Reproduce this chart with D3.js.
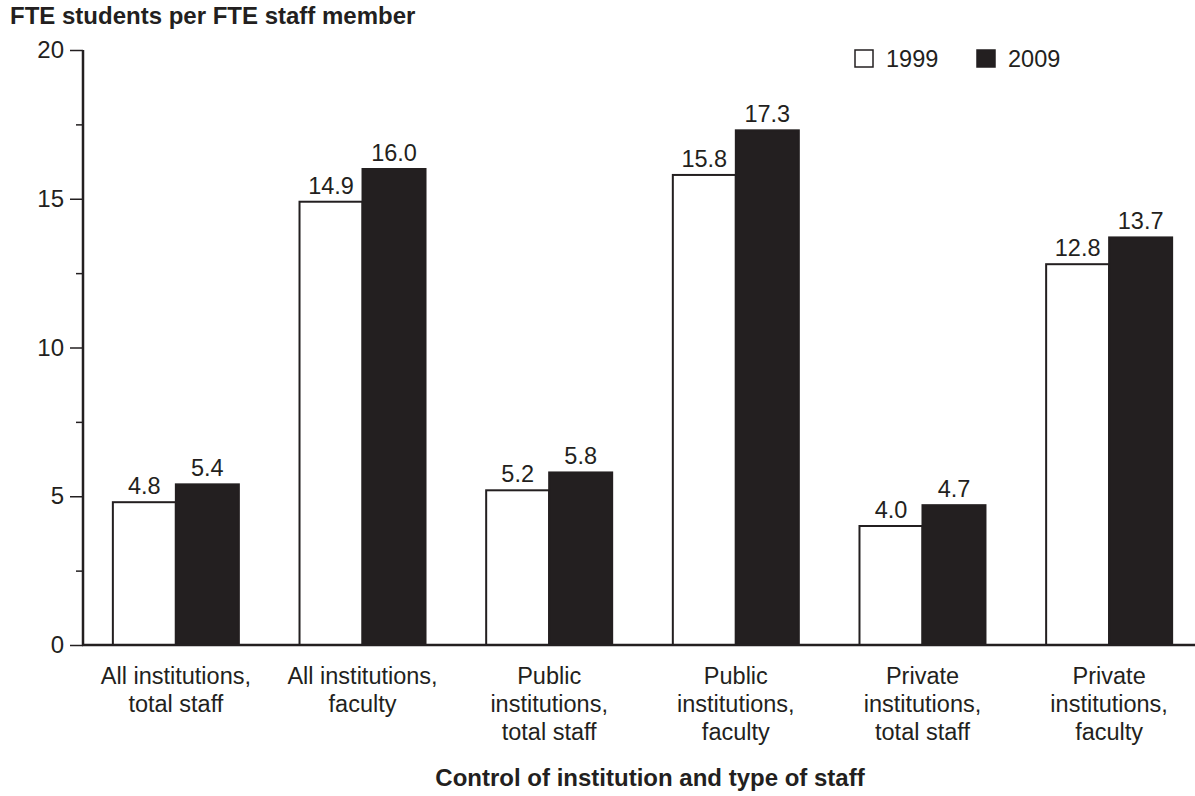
<!DOCTYPE html>
<html>
<head>
<meta charset="utf-8">
<script src="https://cdn.jsdelivr.net/npm/d3@7"></script>
<style>
  body { margin: 0; background: #fff; }
  svg text { font-family: "Liberation Sans", Arial, Helvetica, sans-serif; fill: #231f20; }
</style>
</head>
<body>
<div id="chart"></div>
<script>
// data
var categories = [
    ["All institutions,", "total staff"],
    ["All institutions,", "faculty"],
    ["Public", "institutions,", "total staff"],
    ["Public", "institutions,", "faculty"],
    ["Private", "institutions,", "total staff"],
    ["Private", "institutions,", "faculty"]
];
var years = ["1999", "2009"];
var values1999 = [4.8, 14.9, 5.2, 15.8, 4.0, 12.8];
var values2009 = [5.4, 16.0, 5.8, 17.3, 4.7, 13.7];
var majorTicks = [0, 5, 10, 15, 20];
var minorTicks = [2.5, 7.5, 12.5, 17.5];

var ink = "#231f20";
var width = 1195, height = 796;

var svg = d3.select("#chart").append("svg")
    .attr("width", width)
    .attr("height", height);

var keys = categories.map(function(d, i) { return "c" + i; });

var x0 = d3.scaleBand()
    .domain(keys)
    .range([83, 1202])
    .paddingInner(0.325)
    .paddingOuter(0.16);

var x1 = d3.scaleBand()
    .domain(years)
    .range([0, x0.bandwidth()]);

var y = d3.scaleLinear()
    .domain([0, 20])
    .range([645, 50]);

var series = [values1999, values2009];
var fills = ["#ffffff", ink];

// bars
var groups = svg.selectAll("g.group")
    .data(keys)
    .enter().append("g")
    .attr("class", "group")
    .attr("transform", function(d) { return "translate(" + x0(d) + ",0)"; });

groups.selectAll("rect")
    .data(function(d, i) { return years.map(function(yr, j) { return {year: yr, value: series[j][i], j: j}; }); })
    .enter().append("rect")
    .attr("x", function(d) { return x1(d.year); })
    .attr("y", function(d) { return y(d.value); })
    .attr("width", x1.bandwidth())
    .attr("height", function(d) { return y(0) - y(d.value); })
    .attr("fill", function(d) { return fills[d.j]; })
    .attr("stroke", ink)
    .attr("stroke-width", 2);

// value labels
groups.selectAll("text.val")
    .data(function(d, i) { return years.map(function(yr, j) { return {year: yr, value: series[j][i]}; }); })
    .enter().append("text")
    .attr("class", "val")
    .attr("x", function(d) { return x1(d.year) + x1.bandwidth() / 2; })
    .attr("y", function(d) { return y(d.value) - 8; })
    .attr("text-anchor", "middle")
    .style("font-size", "23.5px")
    .text(function(d) { return d.value.toFixed(1); });

// y axis
var yAxis = svg.append("g")
    .attr("transform", "translate(83,0)")
    .call(d3.axisLeft(y).tickValues(majorTicks).tickSize(13).tickPadding(6).tickFormat(d3.format("d")));
yAxis.select(".domain").remove();
yAxis.selectAll(".tick line").attr("stroke", ink).attr("stroke-width", 1.5);
yAxis.selectAll(".tick text")
    .style("font-size", "24px")
    .style("font-family", "'Liberation Sans', Arial, sans-serif")
    .attr("fill", ink);

var yMinor = svg.append("g")
    .attr("transform", "translate(83,0)")
    .call(d3.axisLeft(y).tickValues(minorTicks).tickSize(7).tickFormat(""));
yMinor.select(".domain").remove();
yMinor.selectAll(".tick line").attr("stroke", ink).attr("stroke-width", 1.5);

svg.append("line")
    .attr("x1", 83).attr("x2", 83)
    .attr("y1", y(20)).attr("y2", y(0) + 1)
    .attr("stroke", ink).attr("stroke-width", 2.5);

svg.append("line")
    .attr("x1", 82).attr("x2", width)
    .attr("y1", y(0)).attr("y2", y(0))
    .attr("stroke", ink).attr("stroke-width", 2.5);

// category labels
groups.append("text")
    .attr("x", x0.bandwidth() / 2)
    .attr("y", 684)
    .attr("text-anchor", "middle")
    .style("font-size", "23.5px")
    .selectAll("tspan")
    .data(function(d, i) { return categories[i]; })
    .enter().append("tspan")
    .attr("x", x0.bandwidth() / 2)
    .attr("dy", function(d, i) { return i === 0 ? 0 : 28; })
    .text(function(d) { return d; });

// titles
svg.append("text")
    .attr("x", 10)
    .attr("y", 24)
    .style("font-size", "24px")
    .style("font-weight", "bold")
    .text("FTE students per FTE staff member");

svg.append("text")
    .attr("x", 650)
    .attr("y", 786)
    .attr("text-anchor", "middle")
    .style("font-size", "24px")
    .style("font-weight", "bold")
    .text("Control of institution and type of staff");

// legend
var legendX = [854, 976];
var legend = svg.selectAll("g.legend")
    .data(years)
    .enter().append("g")
    .attr("class", "legend")
    .attr("transform", function(d, i) { return "translate(" + legendX[i] + ",49)"; });

legend.append("rect")
    .attr("x", 1).attr("y", 1)
    .attr("width", 18).attr("height", 17)
    .attr("fill", function(d, i) { return fills[i]; })
    .attr("stroke", ink)
    .attr("stroke-width", 1.5);

legend.append("text")
    .attr("x", 32)
    .attr("y", 18)
    .style("font-size", "23.5px")
    .text(function(d) { return d; });
</script>
</body>
</html>
